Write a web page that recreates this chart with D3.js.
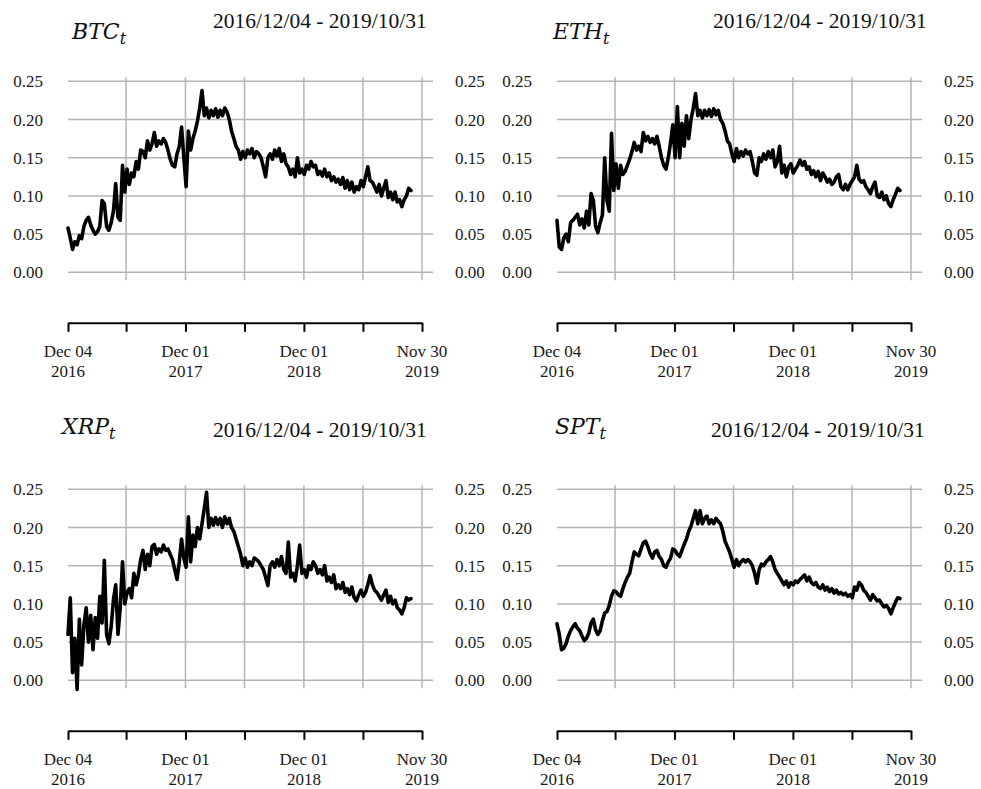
<!DOCTYPE html>
<html>
<head>
<meta charset="utf-8">
<script src="https://cdn.jsdelivr.net/npm/d3@7/dist/d3.min.js"></script>
<style>
  html, body { margin: 0; padding: 0; background: #fff; }
  svg { display: block; }
</style>
</head>
<body>
<script>
// ---------- DATA ----------
const startDate = "2016-12-04";      // first observation
const stepDays = 7;                   // weekly sampling of the daily series
const dateRangeLabel = "2016/12/04 - 2019/10/31";
const seriesNames = ["BTC", "ETH", "XRP", "SPT"];

const btcValues = [
0.058,0.045,0.030,0.040,0.036,0.048,0.044,0.060,0.068,0.072,
0.062,0.055,0.050,0.053,0.060,0.094,0.090,0.060,0.055,0.065,
0.080,0.116,0.072,0.068,0.140,0.105,0.135,0.115,0.130,0.125,
0.145,0.135,0.160,0.158,0.150,0.172,0.160,0.168,0.183,0.165,
0.172,0.168,0.175,0.170,0.160,0.148,0.140,0.138,0.155,0.165,
0.190,0.150,0.112,0.185,0.160,0.175,0.185,0.198,0.215,0.238,
0.205,0.215,0.202,0.212,0.205,0.214,0.203,0.212,0.205,0.215,
0.210,0.200,0.185,0.175,0.165,0.160,0.148,0.158,0.150,0.160,
0.155,0.162,0.150,0.158,0.155,0.150,0.138,0.125,0.150,0.155,
0.148,0.160,0.152,0.162,0.145,0.155,0.142,0.138,0.128,0.135,
0.125,0.150,0.130,0.135,0.128,0.140,0.135,0.145,0.138,0.140,
0.128,0.132,0.126,0.135,0.125,0.130,0.120,0.125,0.118,0.122,
0.115,0.124,0.110,0.120,0.108,0.118,0.105,0.112,0.108,0.120,
0.112,0.125,0.138,0.120,0.118,0.112,0.105,0.115,0.100,0.110,
0.120,0.098,0.105,0.095,0.105,0.092,0.095,0.086,0.095,0.100,
0.110,0.107];

const ethValues = [
0.068,0.033,0.030,0.045,0.050,0.040,0.065,0.068,0.072,0.076,
0.062,0.070,0.058,0.080,0.062,0.103,0.094,0.060,0.052,0.065,
0.075,0.150,0.094,0.080,0.182,0.107,0.142,0.110,0.140,0.128,
0.132,0.140,0.148,0.158,0.170,0.160,0.165,0.158,0.183,0.172,
0.178,0.170,0.175,0.168,0.178,0.165,0.150,0.140,0.135,0.150,
0.170,0.193,0.150,0.217,0.150,0.195,0.165,0.205,0.175,0.200,
0.215,0.234,0.205,0.212,0.202,0.212,0.205,0.213,0.204,0.214,
0.206,0.212,0.200,0.195,0.185,0.172,0.168,0.155,0.145,0.162,
0.150,0.158,0.152,0.160,0.155,0.158,0.145,0.130,0.127,0.150,
0.145,0.155,0.148,0.158,0.150,0.160,0.138,0.145,0.165,0.130,
0.140,0.125,0.138,0.142,0.130,0.135,0.140,0.147,0.140,0.145,
0.135,0.138,0.128,0.133,0.125,0.132,0.120,0.130,0.125,0.118,
0.122,0.115,0.118,0.125,0.128,0.112,0.108,0.115,0.108,0.115,
0.120,0.125,0.140,0.122,0.118,0.120,0.112,0.108,0.103,0.112,
0.118,0.100,0.098,0.105,0.095,0.100,0.090,0.086,0.095,0.102,
0.110,0.107];

const xrpValues = [
0.060,0.108,0.010,0.055,-0.012,0.080,0.020,0.072,0.095,0.050,
0.085,0.040,0.082,0.055,0.110,0.075,0.157,0.060,0.048,0.070,
0.105,0.125,0.060,0.095,0.155,0.100,0.115,0.120,0.108,0.140,
0.125,0.138,0.158,0.170,0.145,0.165,0.150,0.175,0.178,0.165,
0.172,0.168,0.177,0.170,0.172,0.165,0.158,0.145,0.132,0.155,
0.185,0.160,0.148,0.214,0.155,0.190,0.175,0.200,0.185,0.205,
0.225,0.246,0.200,0.212,0.203,0.213,0.204,0.212,0.200,0.214,
0.205,0.212,0.200,0.195,0.185,0.175,0.165,0.150,0.160,0.148,
0.155,0.150,0.160,0.158,0.155,0.150,0.145,0.135,0.124,0.150,
0.155,0.148,0.158,0.150,0.162,0.145,0.140,0.181,0.135,0.140,
0.130,0.150,0.177,0.140,0.145,0.135,0.150,0.145,0.155,0.150,
0.140,0.145,0.138,0.150,0.130,0.135,0.128,0.138,0.120,0.125,
0.120,0.128,0.115,0.120,0.112,0.122,0.108,0.104,0.112,0.118,
0.110,0.115,0.125,0.137,0.125,0.118,0.115,0.110,0.105,0.112,
0.118,0.102,0.110,0.100,0.105,0.095,0.092,0.087,0.095,0.108,
0.105,0.107];

const sptValues = [
0.074,0.060,0.040,0.042,0.048,0.058,0.065,0.070,0.074,0.068,
0.065,0.058,0.052,0.055,0.062,0.075,0.080,0.066,0.060,0.065,
0.078,0.088,0.090,0.098,0.110,0.117,0.116,0.112,0.110,0.120,
0.128,0.135,0.140,0.155,0.168,0.165,0.163,0.172,0.180,0.182,
0.175,0.166,0.160,0.168,0.170,0.162,0.158,0.150,0.148,0.155,
0.160,0.172,0.170,0.165,0.162,0.170,0.178,0.185,0.195,0.202,
0.212,0.222,0.205,0.222,0.205,0.212,0.215,0.205,0.210,0.205,
0.212,0.208,0.205,0.195,0.182,0.175,0.168,0.158,0.148,0.158,
0.150,0.155,0.158,0.155,0.158,0.155,0.150,0.140,0.127,0.145,
0.152,0.150,0.155,0.158,0.162,0.155,0.145,0.140,0.135,0.130,
0.125,0.130,0.122,0.128,0.125,0.130,0.128,0.132,0.135,0.138,
0.130,0.135,0.128,0.125,0.128,0.122,0.120,0.125,0.118,0.122,
0.116,0.120,0.114,0.118,0.113,0.115,0.112,0.114,0.110,0.112,
0.108,0.122,0.118,0.128,0.125,0.118,0.115,0.110,0.105,0.112,
0.108,0.104,0.105,0.100,0.096,0.098,0.094,0.087,0.095,0.102,
0.108,0.107];

const yTickValues = [0.00, 0.05, 0.10, 0.15, 0.20, 0.25];
const yTickLabels = ["0.00", "0.05", "0.10", "0.15", "0.20", "0.25"];
const xTickDates = ["2016-12-04", "2017-06-01", "2017-12-01", "2018-06-01", "2018-12-01", "2019-06-01", "2019-11-30"];
const xTickLabelsTop = ["Dec 04", "", "Dec 01", "", "Dec 01", "", "Nov 30"];
const xTickLabelsBottom = ["2016", "", "2017", "", "2018", "", "2019"];

// ---------- LAYOUT ----------
const W = 981, H = 789;
const SERIF = "Liberation Serif";
const parse = d3.timeParse("%Y-%m-%d");
const start = parse(startDate);
const tickDates = xTickDates.map(parse);

const panels = [
  { name: "BTC", values: btcValues, px: 68,  py: 81.3,  tx: 72,  ty: 38.5, dx: 213, dy: 27.5 },
  { name: "ETH", values: ethValues, px: 557, py: 81.3,  tx: 553, ty: 38.5, dx: 713, dy: 27.5 },
  { name: "XRP", values: xrpValues, px: 68,  py: 489.3, tx: 62,  ty: 433.5, dx: 213, dy: 436.5 },
  { name: "SPT", values: sptValues, px: 557, py: 489.3, tx: 555, ty: 433.5, dx: 711, dy: 436.5 }
];
const plotW = 354, plotH = 191, gridExtra = 11;

const svg = d3.select("body").append("svg").attr("width", W).attr("height", H)
  .attr("font-family", SERIF);

panels.forEach(p => {
  const g = svg.append("g");
  const x = d3.scaleTime().domain([tickDates[0], tickDates[tickDates.length - 1]]).range([p.px, p.px + plotW]);
  const y = d3.scaleLinear().domain([0, 0.25]).range([p.py + plotH, p.py]);

  // horizontal gridlines
  g.selectAll("line.h").data(yTickValues).join("line")
    .attr("x1", p.px).attr("x2", p.px + plotW + gridExtra)
    .attr("y1", d => y(d)).attr("y2", d => y(d))
    .attr("stroke", "#b4b4b4").attr("stroke-width", 1.5);
  // vertical gridlines
  g.selectAll("line.v").data(tickDates.slice(1)).join("line")
    .attr("x1", d => x(d)).attr("x2", d => x(d))
    .attr("y1", p.py - 4).attr("y2", p.py + plotH + 8)
    .attr("stroke", "#b4b4b4").attr("stroke-width", 1.5);

  // left / right value labels
  g.selectAll("text.yl").data(yTickValues).join("text")
    .attr("font-family", SERIF).attr("fill", "#1a1a1a")
    .attr("x", p.px - 25).attr("y", d => y(d) + 6)
    .attr("text-anchor", "end").attr("font-size", 17)
    .text((d, i) => yTickLabels[i]);
  g.selectAll("text.yr").data(yTickValues).join("text")
    .attr("font-family", SERIF).attr("fill", "#1a1a1a")
    .attr("x", p.px + plotW + 33).attr("y", d => y(d) + 6)
    .attr("text-anchor", "start").attr("font-size", 17)
    .text((d, i) => yTickLabels[i]);

  // series line
  const data = p.values.map((v, i) => ({ date: d3.timeDay.offset(start, i * stepDays), v }));
  g.append("path").datum(data)
    .attr("fill", "none").attr("stroke", "#000").attr("stroke-width", 3.6)
    .attr("stroke-linejoin", "round").attr("stroke-linecap", "round")
    .attr("d", d3.line().x(d => x(d.date)).y(d => y(d.v)));

  // separate time axis below
  const axisY = p.py + 241.5;
  const ax = g.append("g").attr("transform", `translate(0,${axisY})`)
    .call(d3.axisBottom(x).tickValues(tickDates).tickSize(9).tickSizeOuter(0).tickFormat(""));
  ax.select(".domain").attr("stroke", "#000").attr("stroke-width", 2);
  ax.selectAll(".tick line").attr("stroke", "#000").attr("stroke-width", 2);

  g.selectAll("text.xt1").data(tickDates).join("text")
    .attr("font-family", SERIF).attr("fill", "#1a1a1a")
    .attr("x", d => x(d)).attr("y", axisY + 34)
    .attr("text-anchor", "middle").attr("font-size", 17)
    .text((d, i) => xTickLabelsTop[i]);
  g.selectAll("text.xt2").data(tickDates).join("text")
    .attr("font-family", SERIF).attr("fill", "#1a1a1a")
    .attr("x", d => x(d)).attr("y", axisY + 54)
    .attr("text-anchor", "middle").attr("font-size", 17)
    .text((d, i) => xTickLabelsBottom[i]);

  // title with subscript
  const t = g.append("text").attr("x", p.tx).attr("y", p.ty)
    .attr("font-size", 22).attr("font-style", "italic").attr("fill", "#111")
    .attr("font-family", "DejaVu Serif");
  t.append("tspan").text(p.name);
  t.append("tspan").attr("font-size", 16).attr("dy", 5).text("t");

  g.append("text").attr("x", p.dx).attr("y", p.dy)
    .attr("font-family", SERIF).attr("fill", "#111")
    .attr("font-size", 21.5).text(dateRangeLabel);
});
</script>
</body>
</html>
